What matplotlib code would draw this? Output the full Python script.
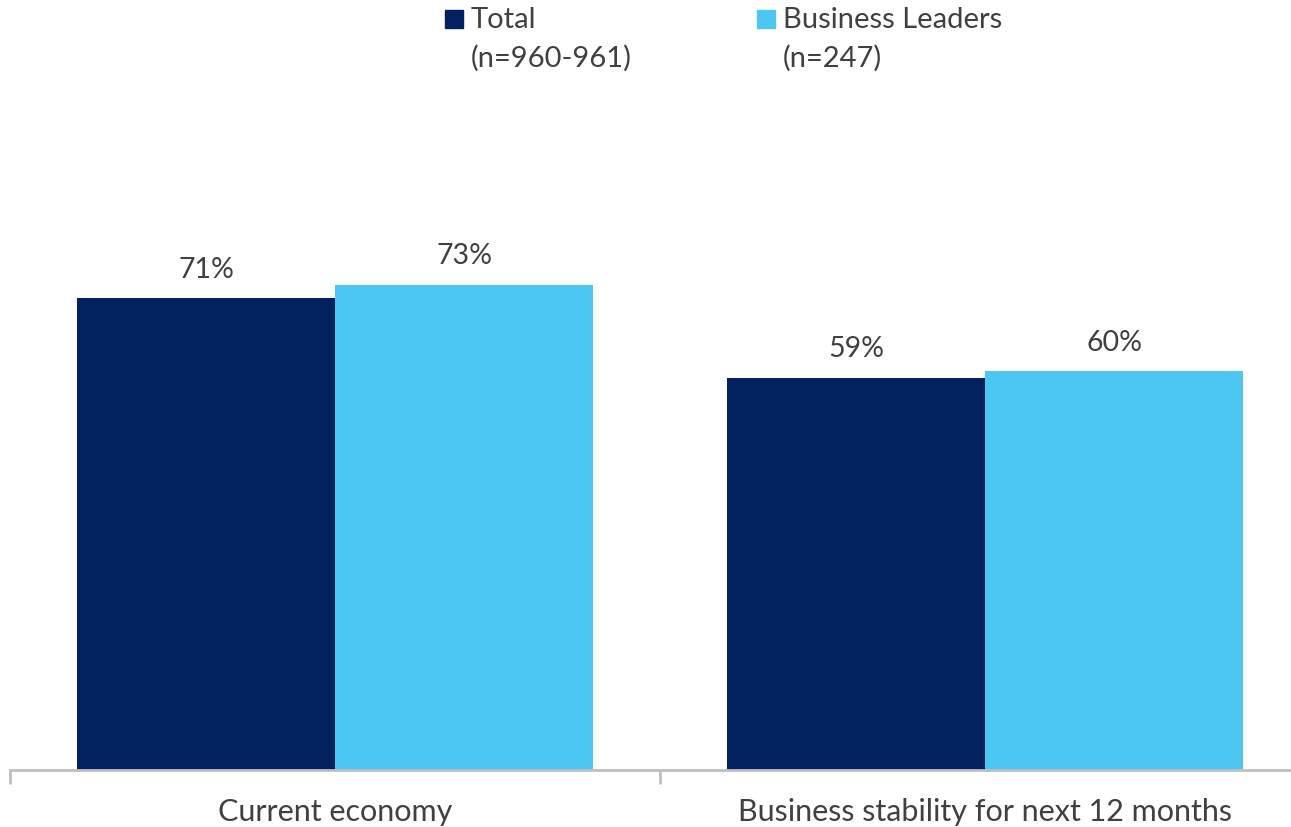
import matplotlib.pyplot as plt
from matplotlib.patches import Rectangle

categories = ['Current economy', 'Business stability for next 12 months']
series_names = ['Total', 'Business Leaders']
series_n = ['(n=960-961)', '(n=247)']
total = [71, 59]
leaders = [73, 60]

colors = ['#03215F', '#4DC7F2']
text_color = '#404040'
axis_color = '#BFBFBF'

plt.rcParams['font.family'] = ['Lato', 'DejaVu Sans']

W, H = 1291, 827
fig = plt.figure(figsize=(W / 100, H / 100), dpi=100)
ax = fig.add_axes([10 / W, 57 / H, 1300 / W, 665 / H])

bar_w = 0.397
x = list(range(len(categories)))
for i, vals in enumerate([total, leaders]):
    pos = [xi + (i - 0.5) * bar_w for xi in x]
    bars = ax.bar(pos, vals, width=bar_w, color=colors[i], edgecolor='none')
    for b, v in zip(bars, vals):
        ax.annotate(f'{v}%', (b.get_x() + b.get_width() / 2, v),
                    xytext=(0, 11), textcoords='offset points',
                    ha='center', va='bottom', fontsize=20.5, color=text_color)

ax.set_xlim(-0.5, 1.5)
ax.set_ylim(0, 100)
ax.set_yticks([])
for s in ['top', 'right', 'left']:
    ax.spines[s].set_visible(False)
ax.spines['bottom'].set_color(axis_color)
ax.spines['bottom'].set_linewidth(2)

ax.set_xticks(x)
ax.set_xticklabels(categories, fontsize=22, color=text_color)
ax.tick_params(axis='x', which='major', length=0, pad=20)
ax.set_xticks([-0.5, 0.5, 1.5], minor=True)
ax.tick_params(axis='x', which='minor', length=10, width=2, color=axis_color)

# legend drawn by hand so the swatch sits beside the first line
legend_x = [445, 757]
for lx, name, n, c in zip(legend_x, series_names, series_n, colors):
    fig.patches.append(Rectangle((lx / W, 1 - 28 / H), 18 / W, 18 / H,
                                 transform=fig.transFigure, color=c))
    fig.text((lx + 26) / W, 1 - 20 / H, name, fontsize=21,
             color=text_color, va='center', ha='left')
    fig.text((lx + 26) / W, 1 - 58 / H, n, fontsize=21,
             color=text_color, va='center', ha='left')

fig.savefig('out.png', dpi=100)
